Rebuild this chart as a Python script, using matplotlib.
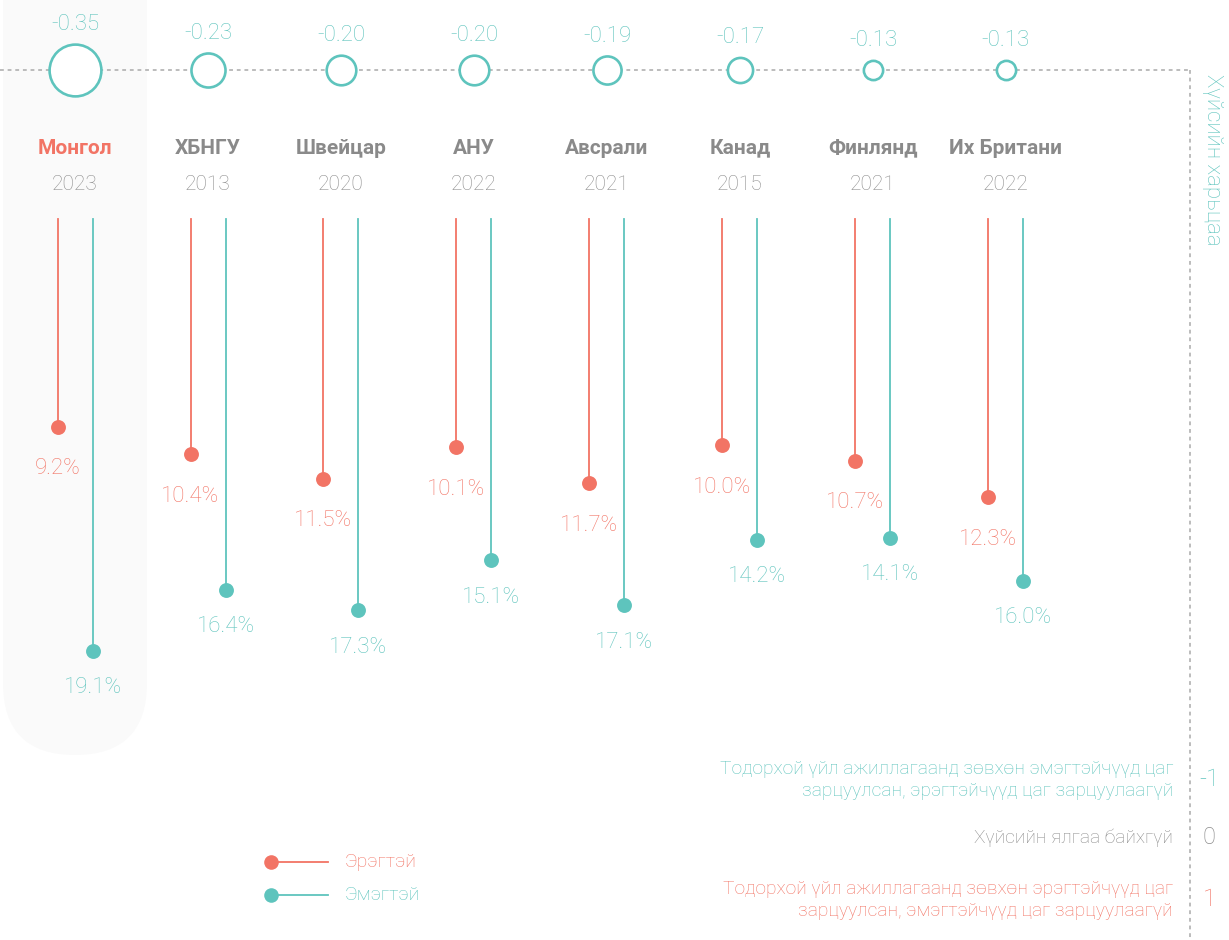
import matplotlib
matplotlib.use("Agg")
import matplotlib.pyplot as plt
from matplotlib.patches import FancyBboxPatch
from matplotlib.transforms import Affine2D
from matplotlib.lines import Line2D

plt.rcParams['font.family'] = ['Roboto', 'DejaVu Sans']

# ---------------- data ----------------
countries = ["Монгол", "ХБНГУ", "Швейцар", "АНУ", "Авсрали", "Канад", "Финлянд", "Их Британи"]
years = ["2023", "2013", "2020", "2022", "2021", "2015", "2021", "2022"]
male = [9.2, 10.4, 11.5, 10.1, 11.7, 10.0, 10.7, 12.3]
female = [19.1, 16.4, 17.3, 15.1, 17.1, 14.2, 14.1, 16.0]
gap = [-0.35, -0.23, -0.20, -0.20, -0.19, -0.17, -0.13, -0.13]
legend_labels = ["Эрэгтэй", "Эмэгтэй"]
scale_ticks = ["-1", "0", "1"]
scale_texts = ["Тодорхой үйл ажиллагаанд зөвхөн эмэгтэйчүүд цаг\nзарцуулсан, эрэгтэйчүүд цаг зарцуулаагүй",
               "Хүйсийн ялгаа байхгүй",
               "Тодорхой үйл ажиллагаанд зөвхөн эрэгтэйчүүд цаг\nзарцуулсан, эмэгтэйчүүд цаг зарцуулаагүй"]
axis_title = "Хүйсийн харьцаа"

# ---------------- style ----------------
RED = "#F27465"
TEAL = "#5EC4BD"
GRAY = "#8A8A8A"
LGRAY = "#8C8C8C"
DOT = "#AAAAAA"

W, H = 1229, 940
fig = plt.figure(figsize=(W / 100, H / 100), dpi=100)
ax = fig.add_axes([0, 0, 1, 1])
ax.set_xlim(-0.564, 8.677)
ax.set_ylim(31.9, -9.69)
ax.axis("off")

# pixel transform (x right, y down from top-left)
pix = Affine2D().scale(1 / W, -1 / H).translate(0, 1) + fig.transFigure

# highlight background for Mongolia
bg = FancyBboxPatch((3, -100), 144, 855, boxstyle="round,pad=0,rounding_size=72",
                    transform=pix, facecolor="#FAFAFA", edgecolor="none", zorder=0)
ax.add_patch(bg)
bg.set_transform(pix)

off = 0.1316
Y_CIRC = -6.59
Y_NAME = -3.14
Y_YEAR = -1.53

# dotted reference line & right axis
ax.add_artist(Line2D([0, 1190], [70, 70], transform=pix, color=DOT, lw=1.1,
                     linestyle=(0, (2.5, 2.5)), zorder=1))
ax.add_artist(Line2D([1190, 1190], [70, 940], transform=pix, color=DOT, lw=1.1,
                     linestyle=(0, (2.5, 2.5)), zorder=1))

for i, (c, yr, m, f, g) in enumerate(zip(countries, years, male, female, gap)):
    # gap circle
    r = 74 * abs(g)
    s = (2 * r * 0.72) ** 2
    ax.scatter([i], [Y_CIRC], s=s, facecolor="white", edgecolor=TEAL, linewidth=1.9, zorder=3)
    ax.annotate(f"{g:.2f}", (i, Y_CIRC), xytext=(0, r + 20), textcoords="offset pixels",
                ha="center", va="center", color=TEAL, fontsize=16, fontweight="light")
    # names
    ax.text(i, Y_NAME, c, ha="center", va="center", fontsize=15, fontweight="bold",
            color=RED if i == 0 else GRAY, zorder=4)
    ax.text(i, Y_YEAR, yr, ha="center", va="center", fontsize=15, fontweight="light",
            color=LGRAY, zorder=4)
    # lollipops
    ax.plot([i - off, i - off], [0, m], color=RED, lw=1.3, zorder=2)
    ax.scatter([i - off], [m], s=115, color=RED, zorder=3, linewidth=0)
    ax.annotate(f"{m:.1f}%", (i - off, m), xytext=(0, -42), textcoords="offset pixels",
                ha="center", va="center", color=RED, fontsize=16, fontweight="light")
    ax.plot([i + off, i + off], [0, f], color=TEAL, lw=1.3, zorder=2)
    ax.scatter([i + off], [f], s=115, color=TEAL, zorder=3, linewidth=0)
    ax.annotate(f"{f:.1f}%", (i + off, f), xytext=(0, -37), textcoords="offset pixels",
                ha="center", va="center", color=TEAL, fontsize=16, fontweight="light")

# right axis title
fig.text(1213 / W, 1 - 160 / H, axis_title, rotation=270, ha="center", va="center",
         color=TEAL, fontsize=16, fontweight="light")

# scale explanation
cols = [TEAL, LGRAY, RED]
ys = [780, 838, 900]
for t, txt, col, y in zip(scale_ticks, scale_texts, cols, ys):
    fig.text(1173 / W, 1 - y / H, txt, ha="right", va="center", color=col, fontsize=13.8,
             fontweight="light", linespacing=1.3)
    fig.text(1209 / W, 1 - y / H, t, ha="center", va="center", color=col,
             fontsize=17, fontweight="light")

# legend
for lab, col, y in zip(legend_labels, [RED, TEAL], [862, 895]):
    ax.add_artist(Line2D([271, 328], [y, y], transform=pix, color=col, lw=1.3))
    ax.add_artist(Line2D([271], [y], transform=pix, color=col, marker="o", markersize=10.5,
                         markeredgewidth=0))
    fig.text(345 / W, 1 - y / H, lab, ha="left", va="center", color=col, fontsize=14,
             fontweight="light")

fig.savefig("out.png", dpi=100, facecolor="white")
